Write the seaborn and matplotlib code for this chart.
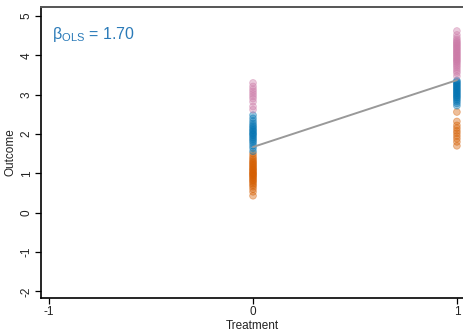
import numpy as np
import pandas as pd
import matplotlib
matplotlib.use("Agg")
import matplotlib.pyplot as plt
import seaborn as sns

# ---- data ----
groups = ["orange", "blue", "pink"]
colors = {"orange": "#D55E00", "blue": "#0072B2", "pink": "#CC79A7"}

control_orange = [0.43, 0.53, 0.60, 0.66, 0.70, 0.74, 0.78, 0.81, 0.84, 0.87,
                  0.90, 0.93, 0.95, 0.98, 1.00, 1.02, 1.05, 1.08, 1.10, 1.13,
                  1.16, 1.19, 1.22, 1.25, 1.28, 1.31, 1.35, 1.39, 1.44, 1.50]
control_blue = [1.56, 1.64, 1.70, 1.76, 1.81, 1.85, 1.89, 1.93, 1.97, 2.00,
                2.03, 2.07, 2.10, 2.14, 2.18, 2.22, 2.27, 2.33, 2.40, 2.48]
control_pink = [2.62, 2.70, 2.82, 2.90, 2.96, 3.02, 3.08, 3.14, 3.21, 3.30]

treated_orange = [1.70, 1.80, 1.88, 1.95, 2.02, 2.08, 2.15, 2.22, 2.32, 2.56]
treated_blue = [2.72, 2.78, 2.83, 2.87, 2.91, 2.94, 2.97, 3.00, 3.03, 3.06,
                3.09, 3.12, 3.15, 3.18, 3.21, 3.24, 3.27, 3.30, 3.33, 3.36]
treated_pink = [3.47, 3.55, 3.60, 3.65, 3.70, 3.74, 3.78, 3.82, 3.85, 3.88,
                3.91, 3.94, 3.97, 4.00, 4.03, 4.06, 4.09, 4.12, 4.15, 4.18,
                4.21, 4.24, 4.27, 4.30, 4.33, 4.36, 4.40, 4.45, 4.52, 4.62]

fit_x = [0, 1]
fit_y = [1.67, 3.37]
beta_ols = 1.70

x_ticks = [-1, 0, 1]
y_ticks = [-2, -1, 0, 1, 2, 3, 4, 5]

rows = []
for treat, sets in [(0, [control_orange, control_blue, control_pink]),
                    (1, [treated_orange, treated_blue, treated_pink])]:
    for g, vals in zip(groups, sets):
        for v in vals:
            rows.append({"Treatment": treat, "Outcome": v, "group": g})
df = pd.DataFrame(rows)
fit = pd.DataFrame({"Treatment": fit_x, "Outcome": fit_y})

# ---- style ----
sns.set_style("white")
plt.rcParams["font.family"] = ["Liberation Sans", "DejaVu Sans"]
plt.rcParams["mathtext.fontset"] = "custom"
plt.rcParams["mathtext.rm"] = "Liberation Sans"
plt.rcParams["mathtext.it"] = "Liberation Sans"

fig = plt.figure(figsize=(4.63, 3.32), dpi=100)
ax = fig.add_axes([41 / 463, 1 - 298 / 332, 1 - 41 / 463, (298 - 7) / 332])

sns.scatterplot(data=df, x="Treatment", y="Outcome", hue="group",
                palette=colors, hue_order=groups, s=24, alpha=0.4,
                edgecolor="face", linewidth=0.6, ax=ax, legend=False, zorder=2)
sns.lineplot(data=fit, x="Treatment", y="Outcome", color="#999999",
             linewidth=1.4, ax=ax, zorder=3)

ax.set_xlim(-1.04, 1.03)
ax.set_ylim(-2.17, 5.23)
ax.set_xticks(x_ticks)
ax.set_yticks(y_ticks)
ax.set_xticklabels([str(t) for t in x_ticks])
ax.set_yticklabels([str(t) for t in y_ticks], rotation=90, va="center")
ax.tick_params(axis="both", which="both", length=4, width=0.9, color="black",
               labelsize=8.5, labelcolor="#222222", pad=2, direction="out",
               bottom=True, left=True)
ax.set_xlabel("Treatment", fontsize=8.5, labelpad=1, color="#222222")
ax.set_ylabel("Outcome", fontsize=8.5, labelpad=3, color="#222222")

for side in ["left", "bottom"]:
    ax.spines[side].set_color("black")
    ax.spines[side].set_linewidth(1.2)
ax.spines["top"].set_color("#555555")
ax.spines["top"].set_linewidth(1.4)
ax.spines["right"].set_visible(False)

ax.text(0.025, 0.905, r"$\mathrm{\beta_{OLS}}$ = %.2f" % beta_ols,
        transform=ax.transAxes, fontsize=11.5, color="#2a7ab8",
        ha="left", va="center")

fig.savefig("out.png", dpi=100)
